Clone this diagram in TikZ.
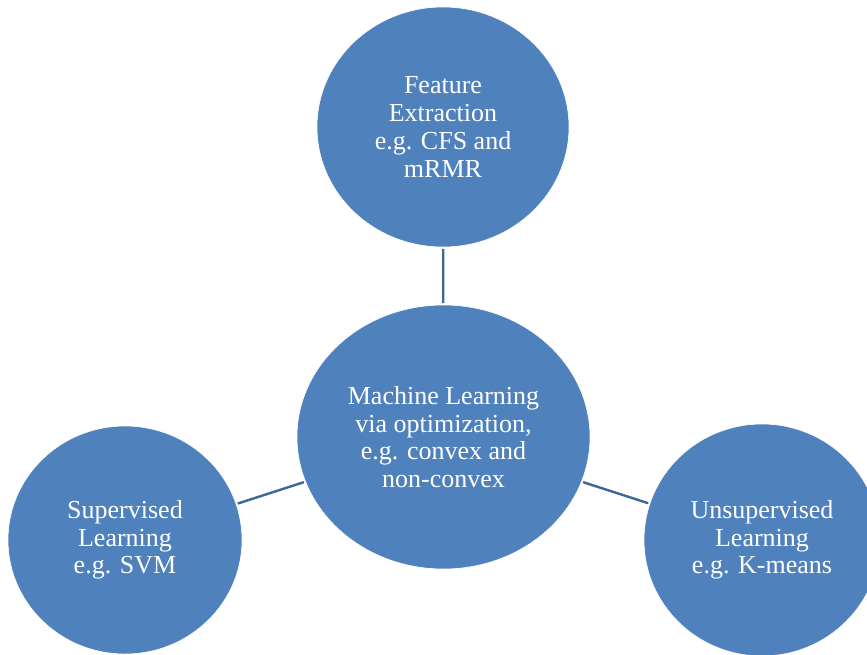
\documentclass[tikz,border=0pt]{standalone}
\usepackage{fontspec}
\setmainfont{Liberation Serif}
\usetikzlibrary{shapes.geometric}
\definecolor{bubblefill}{HTML}{4F81BD}
\definecolor{linkblue}{HTML}{3C6898}
\tikzset{
  bubble/.style={ellipse, fill=bubblefill, draw=white, line width=0.6pt,
    inner sep=0pt, align=center, text=white,
    font=\fontsize{26}{27.7}\selectfont},
  link/.style={draw=linkblue, line width=2.4pt}
}
\begin{document}
\begin{tikzpicture}[x=1pt,y=-1pt]
\useasboundingbox (0,0) rectangle (867,654);
\node[bubble, minimum width=252pt, minimum height=240pt] (fe) at (443,127)
  {Feature\\Extraction\\e.g. CFS and\\mRMR};
\node[bubble, minimum width=293pt, minimum height=264pt] (ml) at (443.5,437)
  {Machine Learning\\via optimization,\\e.g. convex and\\non-convex};
\node[bubble, minimum width=234pt, minimum height=228pt] (sl) at (125,540)
  {Supervised\\Learning\\e.g. SVM};
\node[bubble, minimum width=236pt, minimum height=232pt] (ul) at (762,540)
  {Unsupervised\\Learning\\e.g. K-means};
\draw[link, shorten <=1.5pt, shorten >=1.5pt] (fe) -- (ml);
\draw[link, shorten <=1.5pt, shorten >=1.5pt] (sl) -- (ml);
\draw[link, shorten <=1.5pt, shorten >=1.5pt] (ul) -- (ml);
\end{tikzpicture}
\end{document}
